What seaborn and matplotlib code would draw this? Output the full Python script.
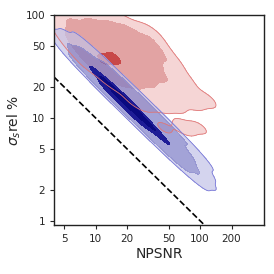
import numpy as np
import matplotlib
matplotlib.use("Agg")
import matplotlib.pyplot as plt
import matplotlib.ticker as mticker
from matplotlib.colors import ListedColormap
import seaborn as sns

# --- data (hand-read sample points with weights) ---
blue_x = [5.43, 8.61, 13.64, 21.62, 34.2, 54.3, 86.1,
          5.96, 9.44, 14.96, 23.7, 37.6, 59.6, 94.4,
          6.53, 10.35, 16.41, 26.0, 41.3, 65.3, 103.5,
          7.25, 11.48, 18.2, 28.8, 45.6, 72.5, 114.8]
blue_y = [43.1, 27.2, 17.18, 10.84, 6.84, 4.31, 2.72,
          47.3, 29.8, 18.84, 11.88, 7.50, 4.73, 2.98,
          51.8, 32.8, 20.65, 13.03, 8.22, 5.18, 3.28,
          57.6, 36.3, 22.9, 14.45, 9.12, 5.76, 3.63]
blue_w = [0.5, 2.0, 2.5, 2.5, 2.1, 1.5, 0.5,
          0.75, 2.8, 3.5, 3.5, 3.0, 2.1, 0.7,
          0.55, 1.6, 2.0, 2.0, 1.7, 1.2, 0.45,
          0.3, 0.8, 1.0, 1.3, 1.2, 0.9, 0.25]

red_x = [6, 9, 13, 18,
         5.5, 7.5, 10.5, 15, 22, 32,
         7, 9.5, 13, 18, 26, 38,
         9.5, 12.5, 17, 24, 34, 50,
         15, 21, 30, 44, 65,
         25, 36, 52, 80, 115,
         45, 70, 100,
         75, 95]
red_y = [85, 85, 85, 85,
         65, 65, 65, 65, 65, 65,
         48, 48, 48, 48, 48, 48,
         35, 35, 35, 35, 35, 35,
         24, 24, 24, 24, 24,
         15, 15, 15, 15, 15,
         8, 8, 8,
         4.5, 4.5]
red_w = [1.0, 1.0, 0.8, 0.5,
         0.9, 1.6, 1.8, 1.6, 1.2, 0.8,
         1.2, 2.0, 2.3, 2.0, 1.6, 1.0,
         1.8, 3.0, 2.9, 2.1, 1.4, 0.8,
         1.4, 1.9, 1.6, 1.1, 0.7,
         0.7, 0.8, 0.8, 0.6, 0.4,
         0.3, 0.4, 0.3,
         0.15, 0.12]

ref_x = [4, 110]
ref_y = [25, 0.909]

x_ticks = [5, 10, 20, 50, 100, 200]
y_ticks = [1, 2, 5, 10, 20, 50, 100]

sns.set_style("ticks")
plt.rcParams["font.family"] = ["DejaVu Sans"]

fig = plt.figure(figsize=(2.74, 2.74), dpi=100)
ax = fig.add_axes([0.197, 0.179, 0.767, 0.766])

bx, by, bw = (np.array(a, float) for a in (blue_x, blue_y, blue_w))
rx, ry, rw = (np.array(a, float) for a in (red_x, red_y, red_w))

RED_BW = 0.55
BLUE_BW = 0.7
red_levels = [0.04, 0.25, 0.94, 1.0]
blue_levels = [0.03, 0.15, 0.68, 0.88, 1.0]

sns.kdeplot(x=rx, y=ry, weights=rw, log_scale=True, fill=True, levels=red_levels,
            cmap=ListedColormap(["#f5d5d5", "#e2a3a3", "#c84848"]), bw_adjust=RED_BW, ax=ax)

sns.kdeplot(x=bx, y=by, weights=bw, log_scale=True, fill=True, levels=blue_levels[:3],
            cmap=ListedColormap(["#c2c2e7", "#7d7dc7"]), alpha=0.7, bw_adjust=BLUE_BW, ax=ax)
sns.kdeplot(x=bx, y=by, weights=bw, log_scale=True, fill=True, levels=blue_levels[2:],
            cmap=ListedColormap(["#1e1c96", "#0a0a80"]), bw_adjust=BLUE_BW, ax=ax)

sns.kdeplot(x=rx, y=ry, weights=rw, log_scale=True, fill=False, levels=red_levels[:1],
            colors=["#e07878"], linewidths=0.6, bw_adjust=RED_BW, ax=ax)
sns.kdeplot(x=bx, y=by, weights=bw, log_scale=True, fill=False, levels=blue_levels[:1],
            colors=["#7878d8"], linewidths=0.6, bw_adjust=BLUE_BW, ax=ax)

ax.plot(ref_x, ref_y, "k--", lw=1.2)

ax.set_xscale("log")
ax.set_yscale("log")
ax.set_xlim(4, 410)
ax.set_ylim(0.91, 100)
ax.xaxis.set_major_locator(mticker.FixedLocator(x_ticks))
ax.yaxis.set_major_locator(mticker.FixedLocator(y_ticks))
ax.xaxis.set_minor_locator(mticker.NullLocator())
ax.yaxis.set_minor_locator(mticker.NullLocator())
ax.xaxis.set_major_formatter(mticker.FixedFormatter([str(v) for v in x_ticks]))
ax.yaxis.set_major_formatter(mticker.FixedFormatter([str(v) for v in y_ticks]))
ax.tick_params(labelsize=7.5, length=3, width=0.8)
for s in ax.spines.values():
    s.set_visible(True)
    s.set_linewidth(1.0)
    s.set_color("#222222")
ax.set_xlabel("NPSNR", fontsize=10, labelpad=2)
ax.set_ylabel(r"$\sigma_s$rel %", fontsize=10, labelpad=2)

fig.savefig("out.png", dpi=100)
